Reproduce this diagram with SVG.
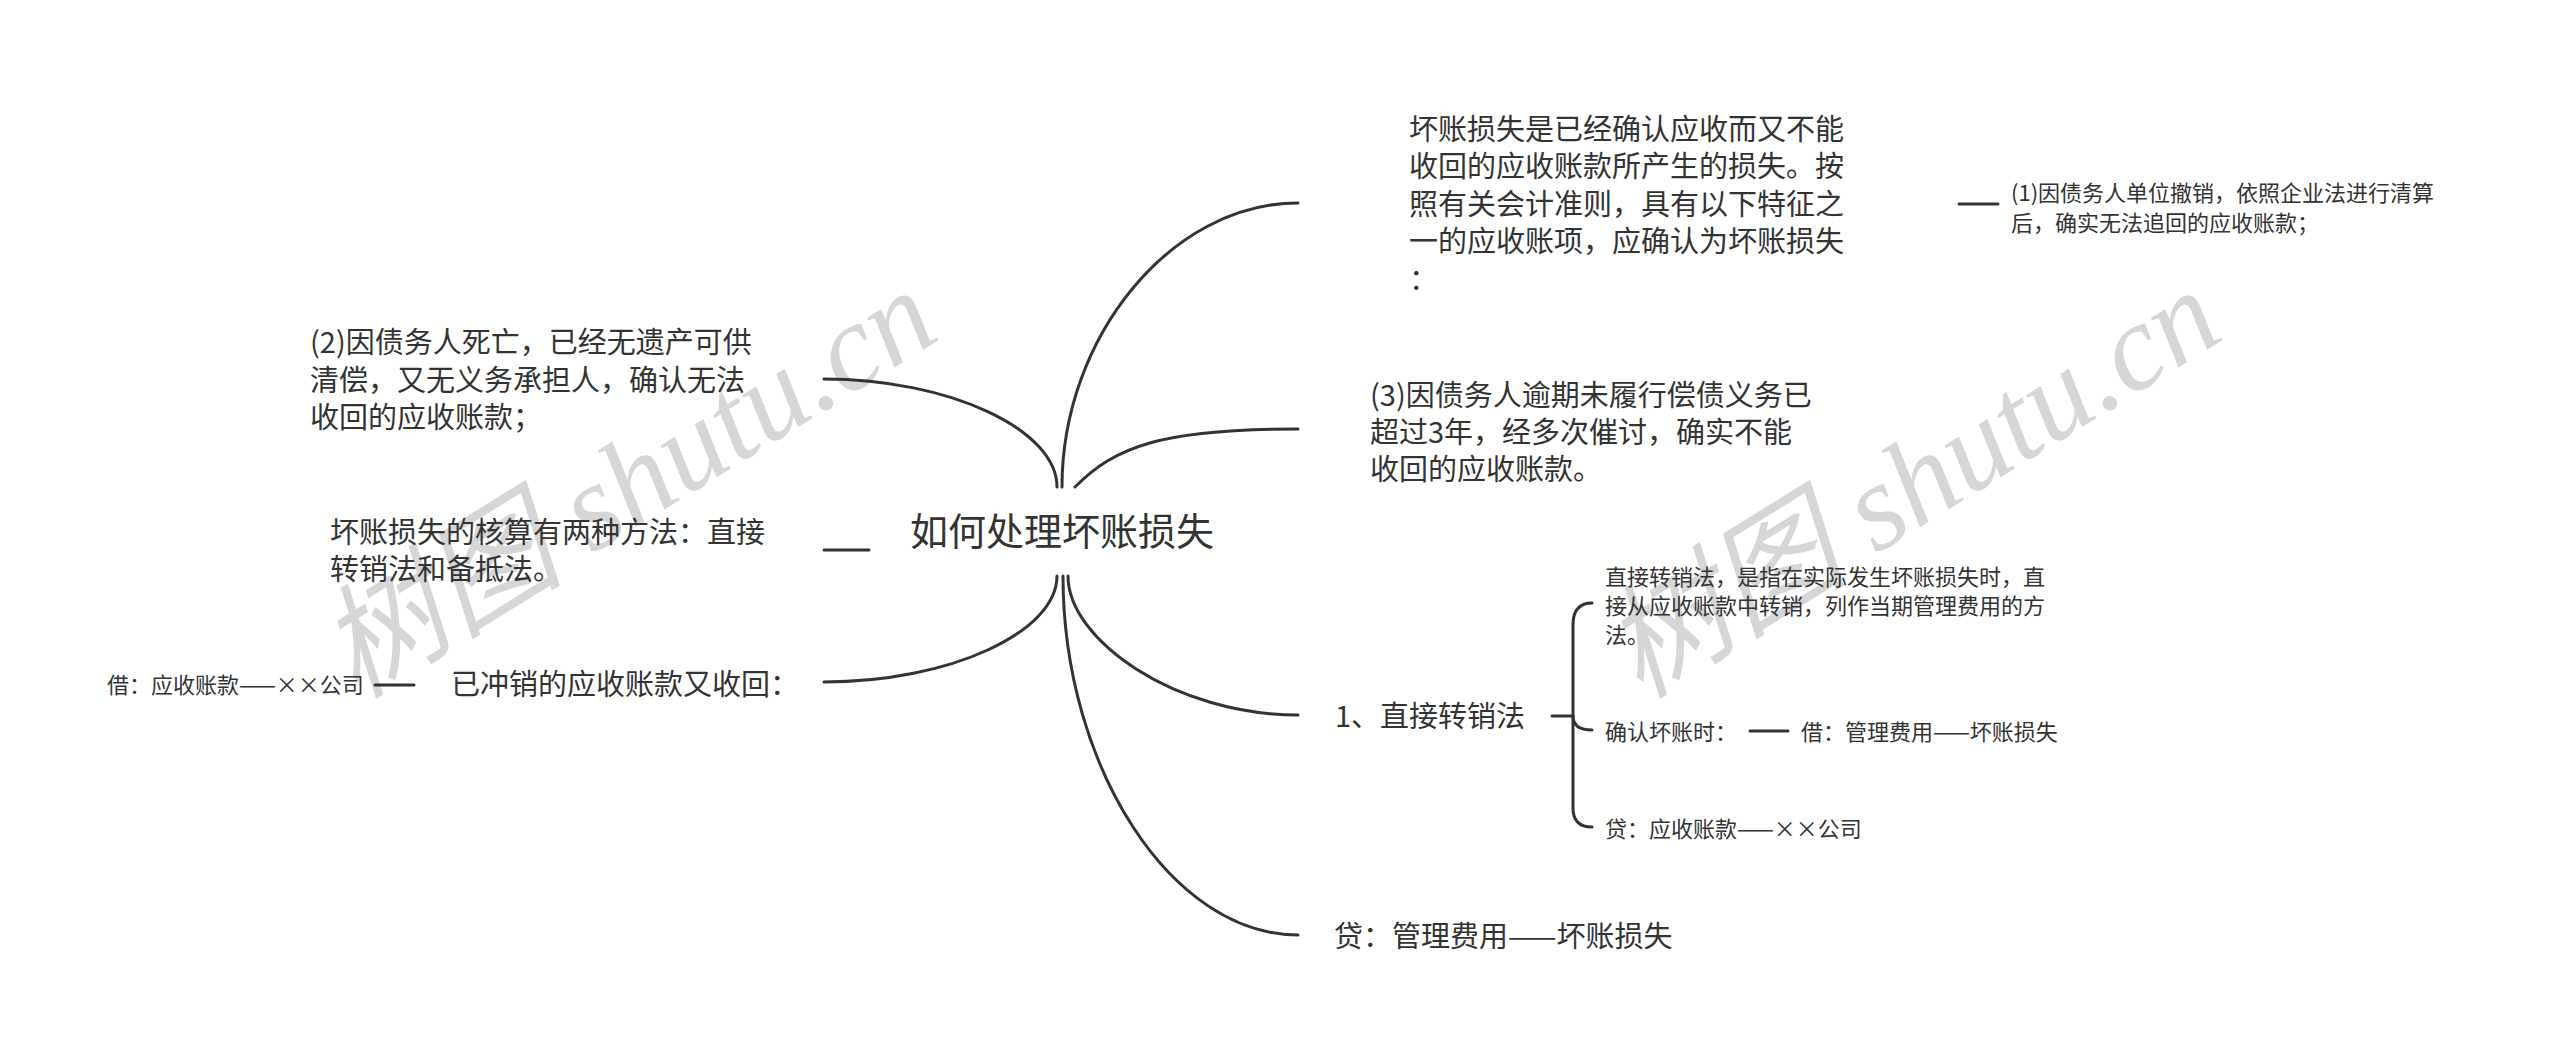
<svg xmlns="http://www.w3.org/2000/svg" width="2560" height="1063" viewBox="0 0 2560 1063">
<style>
text{font-family:"Noto Sans CJK SC","Noto Sans",sans-serif;fill:#333}
.root{font-size:38px}
.m{font-size:29px}
.s{font-size:22px}
.wm{font-family:"Liberation Serif","Noto Sans CJK SC",serif;font-style:italic;font-size:123px;fill:#d6d6d6}
.c{fill:none;stroke:#333;stroke-width:3;stroke-linecap:round}
</style>
<rect width="2560" height="1063" fill="#fff"/>
<g id="watermark">
<text class="wm" x="356" y="700" transform="rotate(-31.7 356 700)">树图 shutu.cn</text>
<text class="wm" x="1640" y="700" transform="rotate(-31.7 1640 700)">树图 shutu.cn</text>
</g>
<g id="connectors">
<path class="c" d="M1062 487 C1062 337 1171 203 1298 203"/>
<path class="c" d="M1075 487 C1115 447 1160 429 1298 429"/>
<path class="c" d="M1057 487 C1057 430 950 379 824 379"/>
<path class="c" d="M869 550 L824 550"/>
<path class="c" d="M1057 576 C1057 632 950 682 824 682"/>
<path class="c" d="M414 685 L375 685"/>
<path class="c" d="M1068 576 C1068 640 1175 715 1298 715"/>
<path class="c" d="M1063 576 C1063 766 1171 935 1298 935"/>
<path class="c" d="M1959 204 L1998 204"/>
<path class="c" d="M1552 716 L1573 716"/>
<path class="c" d="M1573 716 L1573 625 Q1573 603 1592 603"/>
<path class="c" d="M1573 716 Q1573 730 1592 730"/>
<path class="c" d="M1573 716 L1573 808 Q1573 827 1592 827"/>
<path class="c" d="M1750 731 L1788 731"/>
</g>
<g id="root"><text class="root" x="910" y="545">如何处理坏账损失</text></g>
<g id="n-definition">
<text class="m" x="1409" y="139.5">坏账损失是已经确认应收而又不能</text>
<text class="m" x="1409" y="177">收回的应收账款所产生的损失。按</text>
<text class="m" x="1409" y="214.5">照有关会计准则，具有以下特征之</text>
<text class="m" x="1409" y="252">一的应收账项，应确认为坏账损失</text>
<text class="m" x="1409" y="289.5">：</text>
</g>
<g id="n-case1">
<text class="s" x="2011" y="200.5">(1)因债务人单位撤销，依照企业法进行清算</text>
<text class="s" x="2011" y="230.5">后，确实无法追回的应收账款；</text>
</g>
<g id="n-case3">
<text class="m" x="1370" y="406">(3)因债务人逾期未履行偿债义务已</text>
<text class="m" x="1370" y="443">超过3年，经多次催讨，确实不能</text>
<text class="m" x="1370" y="480">收回的应收账款。</text>
</g>
<g id="n-case2">
<text class="m" x="310" y="353">(2)因债务人死亡，已经无遗产可供</text>
<text class="m" x="310" y="390.5">清偿，又无义务承担人，确认无法</text>
<text class="m" x="310" y="428">收回的应收账款；</text>
</g>
<g id="n-methods">
<text class="m" x="330" y="542.5">坏账损失的核算有两种方法：直接</text>
<text class="m" x="330" y="579.5">转销法和备抵法。</text>
</g>
<g id="n-recover"><text class="m" x="451" y="695">已冲销的应收账款又收回：</text></g>
<g id="n-recover-debit"><text class="s" x="107" y="692.5">借：应收账款——××公司</text></g>
<g id="n-direct"><text class="m" x="1335" y="727">1、直接转销法</text></g>
<g id="n-direct-def">
<text class="s" x="1605" y="584.5">直接转销法，是指在实际发生坏账损失时，直</text>
<text class="s" x="1605" y="613.5">接从应收账款中转销，列作当期管理费用的方</text>
<text class="s" x="1605" y="642.5">法。</text>
</g>
<g id="n-confirm"><text class="s" x="1605" y="739.5">确认坏账时：</text></g>
<g id="n-confirm-debit"><text class="s" x="1801" y="739.5">借：管理费用——坏账损失</text></g>
<g id="n-confirm-credit"><text class="s" x="1605" y="836.5">贷：应收账款——××公司</text></g>
<g id="n-credit"><text class="m" x="1334" y="947">贷：管理费用——坏账损失</text></g>
</svg>
